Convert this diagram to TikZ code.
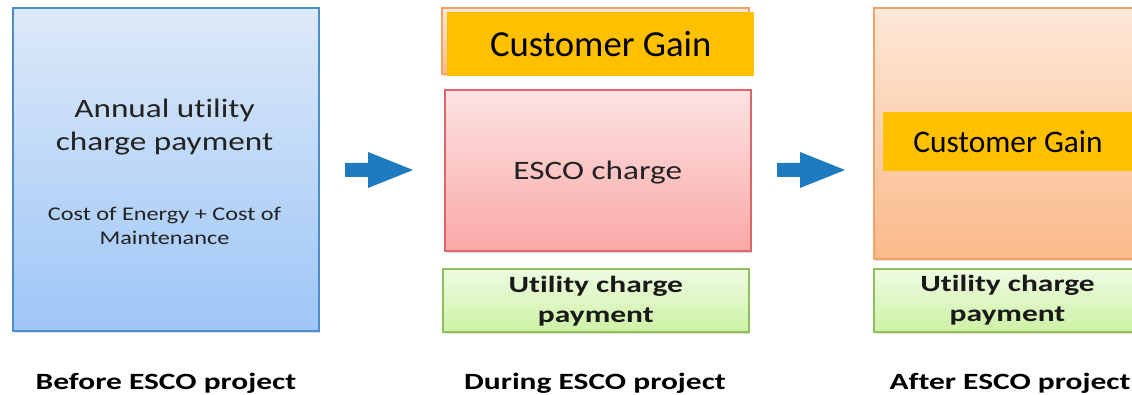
\documentclass[tikz,border=0pt]{standalone}
\usepackage{fontspec}
\setmainfont{Carlito}
\newfontfamily\wide[FakeStretch=1.35,Ligatures=NoCommon]{Carlito}
\newfontfamily\midwide[FakeStretch=1.25,Ligatures=NoCommon]{Carlito}
\usetikzlibrary{shadows}
\definecolor{bluetop}{HTML}{DDE9F8}
\definecolor{bluebot}{HTML}{9EC6F7}
\definecolor{blueline}{HTML}{4A8FCC}
\definecolor{redtop}{HTML}{FDE3E3}
\definecolor{redbot}{HTML}{F9A8A6}
\definecolor{redline}{HTML}{D9666A}
\definecolor{orgtop}{HTML}{FDE8D8}
\definecolor{orgbot}{HTML}{FBB98A}
\definecolor{orgline}{HTML}{F2A367}
\definecolor{grntop}{HTML}{EEFBE1}
\definecolor{grnbot}{HTML}{CDF2A6}
\definecolor{grnline}{HTML}{8FBF5A}
\definecolor{gain}{HTML}{FFC000}
\definecolor{arrowblue}{HTML}{1F7BC0}
\definecolor{txt}{HTML}{222222}
\tikzset{
  box/.style={draw, line width=1.6pt, inner sep=0pt, anchor=north west,
    drop shadow={opacity=0.25, shadow xshift=1.5pt, shadow yshift=-2.5pt}},
  bluebox/.style={box, draw=blueline, top color=bluetop, bottom color=bluebot},
  redbox/.style={box, draw=redline, top color=redtop, bottom color=redbot},
  orgbox/.style={box, draw=orgline, top color=orgtop, bottom color=orgbot},
  grnbox/.style={box, draw=grnline, top color=grntop, bottom color=grnbot},
  gainbox/.style={fill=gain, inner sep=0pt, anchor=north west},
  bigtxt/.style={text=txt, font=\midwide\fontsize{26.6}{33}\selectfont, align=center, inner sep=0pt},
  smalltxt/.style={text=txt, font=\midwide\fontsize{19.4}{24}\selectfont, align=center, inner sep=0pt},
  grntxt/.style={text=black!90, font=\wide\bfseries\fontsize{23.3}{30}\selectfont, align=center, inner sep=0pt},
  labeltxt/.style={text=black, font=\wide\bfseries\fontsize{23.3}{28}\selectfont, inner sep=0pt},
  gaintxt/.style={text=black, inner sep=0pt},
  blockarrow/.style={fill=arrowblue}
}
\begin{document}
\begin{tikzpicture}[x=1pt,y=-1pt]
\useasboundingbox (0,0) rectangle (1132,395);
\clip (0,0) rectangle (1132,395);
\fill[white] (0,0) rectangle (1132,395);

% Before
\node[bluebox, minimum width=306pt, minimum height=323pt] (before) at (12,7) {};
\node[bigtxt] (annual) at (164.5,127) {Annual utility\\charge payment};
\node[smalltxt] (cost) at (164.5,226) {Cost of Energy + Cost of\\Maintenance};

% arrow 1
\fill[blockarrow] (345,163) -- (368,163) -- (368,152) -- (413,170) -- (368,188) -- (368,177) -- (345,177) -- cycle;

% During
\node[orgbox, minimum width=307pt, minimum height=66pt] (gainback) at (441,7) {};
\node[gainbox, minimum width=307pt, minimum height=64pt] (gain1) at (447,12) {};
\node[gaintxt, font=\fontsize{36.7}{40}\selectfont] (gaintext1) at (gain1.center) {Customer Gain};
\node[redbox, minimum width=306pt, minimum height=161pt] (esco) at (444,89) {};
\node[bigtxt] (escotext) at ([yshift=-2pt]esco.center) {ESCO charge};
\node[grnbox, minimum width=306pt, minimum height=63pt] (util1) at (442,268) {};
\node[grntxt] (utiltext1) at ([yshift=-1pt]util1.center) {Utility charge\\payment};

% arrow 2
\fill[blockarrow] (777,163) -- (800,163) -- (800,152) -- (845,170) -- (800,188) -- (800,177) -- (777,177) -- cycle;

% After
\node[orgbox, minimum width=290pt, minimum height=251pt] (after) at (873,7) {};
\node[gainbox, minimum width=270pt, minimum height=59pt] (gain2) at (883,112) {};
\node[gaintxt, font=\fontsize{31.4}{36}\selectfont] (gaintext2) at (1008,142) {Customer Gain};
\node[grnbox, minimum width=290pt, minimum height=63pt] (util2) at (873,268) {};
\node[grntxt] (utiltext2) at (1007.5,300.5) {Utility charge\\payment};

% labels
\node[labeltxt] (lbefore) at (166,383) {Before ESCO project};
\node[labeltxt] (lduring) at (595,383) {During ESCO project};
\node[labeltxt] (lafter) at (1010,383) {After ESCO project};
\end{tikzpicture}
\end{document}
